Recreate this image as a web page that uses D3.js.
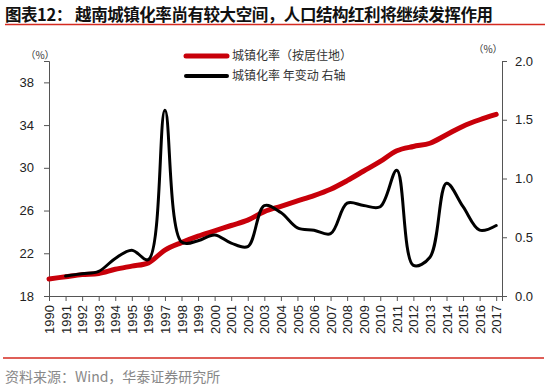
<!DOCTYPE html>
<html lang="zh">
<head><meta charset="utf-8">
<title>越南城镇化率</title>
<style>
body { margin: 0; background: #fff; font-family: Arial, "Liberation Sans", sans-serif; }
.axis text { font-family: Arial, "Liberation Sans", sans-serif; font-size: 13px; fill: #222; }
.axis path, .axis line { stroke: #555; }
</style>
</head>
<body>
<svg width="550" height="389"></svg>
<script src="https://cdn.jsdelivr.net/npm/d3@7"></script>
<script>

// data
var years = [1990,1991,1992,1993,1994,1995,1996,1997,1998,1999,2000,2001,2002,2003,
             2004,2005,2006,2007,2008,2009,2010,2011,2012,2013,2014,2015,2016,2017];
var urbanRate = [19.6,19.8,20.0,20.1,20.5,20.8,21.1,22.3,23.0,23.6,24.1,24.6,25.1,25.9,
                 26.4,26.9,27.4,28.0,28.8,29.7,30.6,31.6,32.0,32.3,33.1,33.9,34.5,35.0];
var yoyChange = [null,0.17,0.19,0.21,0.32,0.39,0.31,1.58,0.46,0.47,0.52,0.45,0.42,0.77,
                 0.71,0.58,0.56,0.53,0.79,0.77,0.76,1.07,0.26,0.33,0.96,0.76,0.56,0.60];
var leftTicks = [18,22,26,30,34,38];
var rightTicks = [0,0.5,1.0,1.5,2.0];

var svg = d3.select("svg");

// title + rule
svg.append("text")
    .attr("x", 5).attr("y", 21)
    .attr("font-family", "'Noto Sans CJK SC', sans-serif")
    .attr("font-weight", "bold")
    .attr("font-size", 16.5)
    .attr("fill", "#111")
    .attr("textLength", 488)
    .attr("lengthAdjust", "spacing")
    .text("图表12：  越南城镇化率尚有较大空间，人口结构红利将继续发挥作用");
svg.append("line")
    .attr("x1", 5).attr("x2", 545).attr("y1", 24.5).attr("y2", 24.5)
    .attr("stroke", "#d42a20").attr("stroke-width", 1.6);

var x = d3.scaleLinear().domain([1990, 2017.35]).range([49, 502]);
var yL = d3.scaleLinear().domain([18, 40]).range([296, 61]);
var yR = d3.scaleLinear().domain([0, 2]).range([296, 61]);

// axes
svg.append("g").attr("class", "axis")
    .attr("transform", "translate(49,0)")
    .call(d3.axisLeft(yL).tickValues(leftTicks).tickSizeOuter(0).tickSize(5).tickPadding(10));

svg.append("g").attr("class", "axis")
    .attr("transform", "translate(502,0)")
    .call(d3.axisRight(yR).tickValues(rightTicks).tickSizeOuter(0).tickSize(5).tickPadding(8)
        .tickFormat(d3.format(".1f")))
    .call(function(g) { g.selectAll("path, line").attr("stroke", "#222"); });

var xa = svg.append("g").attr("class", "axis")
    .attr("transform", "translate(0,296)")
    .call(d3.axisBottom(x).tickValues(years).tickFormat(d3.format("d")).tickSizeOuter(0).tickSize(5));
xa.selectAll("text")
    .attr("font-size", 12)
    .attr("transform", "rotate(-90)")
    .attr("text-anchor", "end")
    .attr("x", -9).attr("y", 0).attr("dy", "0.35em");

// unit labels
svg.append("text").attr("x", 40).attr("y", 59).attr("text-anchor", "middle")
    .attr("font-family", "'Noto Sans CJK SC', sans-serif").attr("font-size", 10).attr("fill", "#333")
    .text("（%）");
svg.append("text").attr("x", 488).attr("y", 53).attr("text-anchor", "middle")
    .attr("font-family", "'Noto Sans CJK SC', sans-serif").attr("font-size", 10).attr("fill", "#333")
    .text("（%）");

// lines
var redLine = d3.line()
    .x(function(d, i) { return x(years[i]); })
    .y(function(d) { return yL(d); })
    .curve(d3.curveCatmullRom);
var blackLine = d3.line()
    .defined(function(d) { return d != null; })
    .x(function(d, i) { return x(years[i]); })
    .y(function(d) { return yR(d); })
    .curve(d3.curveCatmullRom);

svg.append("path").datum(urbanRate)
    .attr("d", redLine)
    .attr("fill", "none").attr("stroke", "#c8000a").attr("stroke-width", 5)
    .attr("stroke-linecap", "round").attr("stroke-linejoin", "round");
svg.append("path").datum(yoyChange)
    .attr("d", blackLine)
    .attr("fill", "none").attr("stroke", "#000").attr("stroke-width", 3)
    .attr("stroke-linecap", "round").attr("stroke-linejoin", "round");

// legend
var legend = [
  {label: "城镇化率（按居住地）", color: "#c8000a", w: 5, y: 56},
  {label: "城镇化率 年变动 右轴", color: "#000", w: 4, y: 76}
];
legend.forEach(function(l) {
  svg.append("line").attr("x1", 186).attr("x2", 227).attr("y1", l.y).attr("y2", l.y)
      .attr("stroke", l.color).attr("stroke-width", l.w).attr("stroke-linecap", "round");
  svg.append("text").attr("x", 232).attr("y", l.y + 4)
      .attr("font-family", "'Noto Sans CJK SC', sans-serif").attr("font-size", 12).attr("fill", "#333")
      .text(l.label);
});

// footer
svg.append("line")
    .attr("x1", 3).attr("x2", 544).attr("y1", 358).attr("y2", 358)
    .attr("stroke", "#d42a20").attr("stroke-width", 1.3);
svg.append("text").attr("x", 5).attr("y", 382)
    .attr("font-family", "'Noto Sans CJK SC', sans-serif").attr("font-size", 14).attr("fill", "#888")
    .text("资料来源：Wind，华泰证券研究所");

</script>
</body>
</html>
